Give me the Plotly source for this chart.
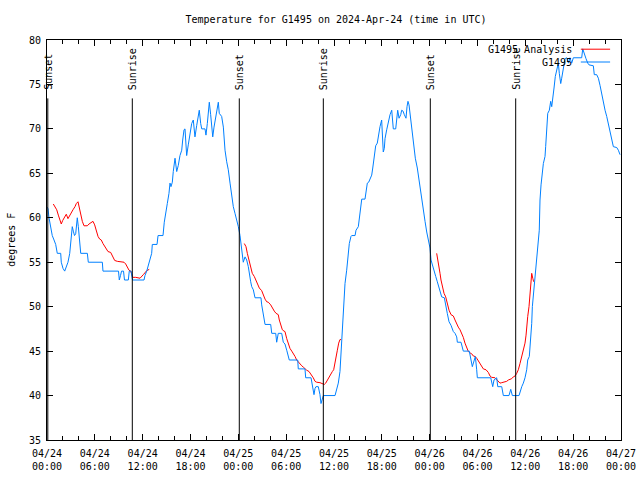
import plotly.graph_objects as go

# ---- data (hours since 2024-04-24 00:00 UTC) ----
obs_hours = [0.02, 0.13, 0.25, 0.46, 0.66, 0.88, 1.09, 1.29, 1.72, 1.79, 2.01, 2.22, 2.47, 2.63, 2.85, 2.97,
             3.17, 3.30, 3.45, 3.60, 3.68, 3.80, 3.93, 4.10, 4.23, 5.06, 5.18, 6.94, 7.02, 8.97, 9.07, 9.22,
             9.35, 9.60, 9.72, 10.20, 10.32, 10.54, 10.73, 12.17, 12.29, 12.51, 12.79, 13.13, 13.21, 13.80,
             13.93, 14.55, 14.71, 14.93, 15.09, 15.30, 15.43, 15.55, 15.72, 15.84, 15.97, 16.06, 16.27, 16.47,
             16.68, 16.90, 17.02, 17.19, 17.31, 17.52, 17.72, 17.94, 18.15, 18.35, 18.56, 18.78, 18.98, 19.10,
             19.28, 19.41, 19.82, 19.94, 20.11, 20.23, 20.36, 20.53, 20.66, 20.79, 20.95, 21.20, 21.36, 21.49,
             21.61, 21.91, 22.12, 22.33, 22.54, 22.74, 22.96, 23.17, 23.37, 23.58, 23.80, 24.00, 24.21, 24.42,
             24.62, 24.84, 25.05, 25.25, 25.38, 25.55, 25.68, 25.88, 26.09, 26.84, 26.93, 27.13, 27.35, 28.06,
             28.19, 28.69, 28.81, 29.01, 29.44, 29.64, 29.85, 30.07, 30.39, 31.45, 31.52, 32.36, 32.45, 33.12,
             33.28, 33.49, 33.62, 33.74, 34.03, 34.24, 34.37, 34.53, 34.66, 36.13, 36.34, 36.54, 36.75, 36.88,
             36.97, 37.17, 37.38, 37.59, 37.79, 37.92, 38.13, 38.22, 38.64, 38.76, 39.05, 39.17, 39.35, 39.48,
             39.89, 40.01, 40.18, 40.35, 40.52, 40.73, 40.86, 41.06, 41.23, 41.43, 41.56, 41.77, 41.98, 42.06,
             42.18, 42.31, 42.40, 42.61, 42.81, 43.03, 43.24, 43.37, 43.44, 43.74, 43.87, 43.99, 44.16, 44.37,
             44.49, 44.66, 44.82, 45.03, 45.16, 45.28, 45.41, 45.53, 45.66, 45.87, 46.04, 46.20, 46.45, 46.63,
             46.79, 47.00, 47.20, 47.42, 47.63, 47.83, 48.04, 48.17, 48.38, 48.58, 48.76, 48.96, 49.17, 49.39,
             49.51, 49.84, 50.01, 50.21, 50.43, 50.68, 50.97, 51.18, 51.39, 51.47, 51.93, 52.10, 52.22, 52.97,
             53.10, 53.19, 53.35, 53.60, 53.73, 53.90, 53.98, 55.66, 55.91, 56.07, 56.41, 56.54, 57.04, 57.24,
             57.95, 58.17, 58.29, 58.37, 59.21, 59.33, 59.55, 59.75, 59.96, 60.17, 60.30, 60.50, 60.63, 60.80,
             60.88, 61.00, 61.13, 61.21, 61.75, 61.84, 61.97, 62.26, 62.47, 62.55, 62.68, 62.81, 63.01, 63.18,
             63.31, 63.43, 63.60, 63.76, 63.94, 64.14, 64.26, 64.44, 64.56, 64.69, 64.85, 64.98, 65.19, 65.42,
             65.60, 65.82, 66.02, 67.07, 67.20, 67.36, 67.61, 67.83, 67.99, 68.53, 68.65, 68.95, 69.16, 69.37,
             69.58, 69.78, 70.00, 70.21, 70.41, 70.63, 70.84, 71.04, 71.47, 71.67, 71.88]
obs_temps = [61.2, 61, 60, 59, 58, 57.5, 57, 56, 56, 55, 54.3, 54, 54.5, 55, 56, 57,
             59, 58.5, 58, 58.2, 59.2, 60, 59, 57.5, 56, 56, 55, 55, 54, 54, 53, 53.5,
             54, 54, 53, 53, 54, 54, 53, 53, 53.5, 54, 55, 56, 57, 57,
             58, 58, 59.5, 60.5, 61.6, 62.75, 63.9, 63.5, 64, 65.2, 66.3, 66.7, 65.2, 65.9,
             67, 67.6, 68.75, 69.9, 70, 67, 68.2, 69.5, 70.6, 71, 69.1, 70.4, 71.4, 72.1,
             70.6, 70, 70, 69.3, 70.6, 72.1, 73, 71.6, 70.4, 69.1, 70.2, 71.75, 72.7, 73,
             71.75, 71.4, 70.2, 67.6, 66.3, 65.4, 63.9, 62.4, 61.25, 60.5, 59.75, 59, 58, 56.6,
             55, 55.6, 55.25, 54.5, 53.6, 52.8, 52.25, 51.9, 51, 51, 50.2, 49.25, 48, 48,
             47, 47, 46, 47, 47, 46, 45.8, 45.1, 44, 44, 43, 43, 42, 42,
             41.2, 40.1, 40.8, 41, 41, 40.1, 39.1, 39.7, 40, 40, 40.6, 41.4, 42.7, 44.6,
             47.2, 50, 52.6, 54.1, 55.6, 57.1, 57.9, 58, 58, 58.6, 59, 59.75, 61.25, 62.1,
             62.1, 62.75, 63.9, 64, 64.4, 64.8, 65.6, 67.4, 68.1, 68.4, 69.2, 70.25, 71, 68.75,
             67.4, 67.8, 68.9, 69.9, 70.8, 71.6, 72.1, 70.6, 70, 70, 71, 72.1, 71.2, 71.6,
             72.1, 72, 71.6, 71.2, 72.5, 73.1, 72.7, 71.75, 70.6, 68.75, 67.6, 66.7, 65.6, 64.4,
             63.5, 62.2, 60.9, 59.6, 58.4, 57.5, 56.6, 55.25, 54.5, 53.9, 53.4, 52.8, 52.1, 51.3,
             51.1, 51, 50, 49.25, 48.3, 47.9, 47.2, 47, 46.6, 46, 46, 45.5, 45, 45,
             44.4, 43.8, 43.25, 44, 44.4, 42.9, 42, 42, 41, 41.75, 42, 41, 41, 40,
             40, 40.7, 40.3, 40, 40, 40.4, 41, 41.4, 42, 42.9, 44, 44.4, 45.9, 48.1,
             50, 51.3, 52.6, 53.5, 58.6, 62, 63.7, 66.1, 66.9, 68, 70.25, 71.75, 72.1, 73.1,
             72.5, 73.25, 74.6, 75.9, 76.8, 77.4, 76.25, 75.1, 75.7, 76.4, 77.4, 77.9, 78, 77.4,
             78, 77.4, 78, 78, 79, 78.5, 77.9, 77.4, 77.2, 77.1, 76.1, 76.1, 75.7, 74.9,
             73.8, 72.9, 72.1, 71.4, 70.6, 69.5, 68.75, 68, 67.9, 67.6, 67.1]

ana_hours = [0.79, 1.00, 1.22, 1.42, 1.63, 1.79, 1.97, 2.22, 2.42, 2.63, 2.97, 3.26, 3.51, 3.68, 3.89, 4.01,
             4.23, 4.43, 4.64, 5.06, 5.27, 5.56, 5.77, 5.98, 6.18, 6.40, 6.61, 6.81, 7.02, 7.36, 7.65, 7.99,
             8.28, 8.49, 8.82, 9.66, 9.87, 10.07, 10.29, 10.50, 10.60, 10.75, 11.13, 11.67, 12.08, 12.29,
             12.51, 12.83, None,
             24.75, 24.96, 25.13, 25.34, 25.55, 25.75, 26.00, 26.22, 26.43, 26.63, 26.93, 27.13, 27.35, 27.56,
             27.76, 28.06, 28.26, 28.51, 28.73, 29.01, 29.14, 29.32, 29.52, 29.73, 29.85, 30.07, 30.27, 30.48,
             30.70, 30.90, 31.11, 31.32, 31.52, 31.74, 31.95, 32.15, 32.36, 32.58, 32.87, 33.12, 33.40, 33.62,
             33.83, 34.24, 34.53, 34.78, 34.96, 35.16, 35.37, 35.59, 35.79, 35.96, 36.13, 36.25, 36.42, 36.59,
             36.75, 36.88, None,
             48.88, 49.01, 49.17, 49.30, 49.42, 49.59, 49.80, 50.01, 50.21, 50.43, 50.68, 50.97, 51.18, 51.39,
             51.59, 51.81, 52.02, 52.22, 52.43, 52.65, 52.85, 53.06, 53.27, 53.48, 53.69, 53.90, 54.10, 54.32,
             54.53, 54.73, 55.07, 55.36, 55.57, 55.78, 56.20, 56.41, 56.61, 56.82, 57.04, 57.45, 57.66, 57.87,
             58.08, 58.29, 58.49, 58.71, 58.92, 59.12, 59.33, 59.55, 59.67, 59.84, 59.96, 60.09, 60.17, 60.30,
             60.46, 60.59, 60.71, 60.80, 60.93, 61.05]
ana_temps = [61.55, 61.25, 60.9, 60.3, 59.75, 59.3, 59.7, 60.1, 60.4, 59.9, 60.5, 60.9, 61.25, 61.6, 61.8, 61.25,
             60.3, 59.6, 59.1, 59.1, 59.3, 59.5, 59.6, 59.2, 58.4, 57.9, 57.6, 57.5, 57.1, 56.6, 56.2, 56.1,
             55.6, 55.2, 55.1, 55, 54.8, 54.5, 54.1, 54.0, 53.6, 53.3, 53.3, 53.2, 53.6, 53.8,
             54.05, 54.2, None,
             57.1, 56.75, 56, 55.1, 54.3, 53.75, 53.4, 53, 52.5, 52.1, 51.8, 51.3, 50.85, 50.55,
             50.5, 50.2, 49.8, 49.5, 49.25, 49.1, 48.5, 47.9, 47.4, 47.25, 47.2, 46.4, 45.9, 45.3,
             45, 44.75, 44.4, 44, 43.75, 43.5, 43.35, 43.2, 43, 42.85, 42.7, 42.4, 42, 41.6,
             41.5, 41.45, 41.3, 41.25, 41.4, 41.75, 42.1, 42.4, 42.7, 42.9, 43.6, 44.4, 45.1, 45.9,
             46.3, 46.3, None,
             56, 55.4, 54.7, 53.75, 53, 52.25, 51.5, 51.1, 50.4, 49.6, 49.1, 48.95, 48.5, 48.05,
             47.7, 47.4, 47, 46.55, 45.9, 45.3, 44.95, 44.8, 44.7, 44.45, 44.4, 44.2, 43.9, 43.6,
             43.25, 43, 42.9, 42.6, 42.2, 42.05, 42, 41.8, 41.6, 41.4, 41.45, 41.5, 41.6, 41.75,
             41.8, 41.9, 42.1, 42.2, 42.5, 42.9, 43.6, 44.4, 44.75, 45.7, 45.9, 46.8, 47.9, 48.9,
             50, 51.3, 52.6, 53.75, 53.2, 52.8]

sun_hours = [0.1, 10.70, 24.12, 34.66, 48.08, 58.79]
sun_labels = ["Sunset", "Sunrise", "Sunset", "Sunrise", "Sunset", "Sunrise"]

tick_hours = [0, 6, 12, 18, 24, 30, 36, 42, 48, 54, 60, 66, 72]
tick_labels = ["04/24<br>00:00", "04/24<br>06:00", "04/24<br>12:00", "04/24<br>18:00",
               "04/25<br>00:00", "04/25<br>06:00", "04/25<br>12:00", "04/25<br>18:00",
               "04/26<br>00:00", "04/26<br>06:00", "04/26<br>12:00", "04/26<br>18:00",
               "04/27<br>00:00"]
y_ticks = [35, 40, 45, 50, 55, 60, 65, 70, 75, 80]

series_names = ["G1495 Analysis", "G1495"]
series_colors = ["#ff0000", "#0080ff"]

FONT = "DejaVu Sans Mono"

fig = go.Figure()
fig.add_trace(go.Scatter(x=ana_hours, y=ana_temps, mode="lines", name=series_names[0],
                         line=dict(color=series_colors[0], width=1), connectgaps=False))
fig.add_trace(go.Scatter(x=obs_hours, y=obs_temps, mode="lines", name=series_names[1],
                         line=dict(color=series_colors[1], width=1)))

shapes = []
annotations = []
for h, lab in zip(sun_hours, sun_labels):
    shapes.append(dict(type="line", xref="x", yref="paper", x0=h, x1=h, y0=0, y1=0.854,
                       line=dict(color="black", width=1)))
    annotations.append(dict(xref="x", yref="paper", x=h, y=0.87, text=lab, showarrow=False,
                            textangle=-90, xanchor="center", yanchor="bottom",
                            font=dict(family=FONT, size=10, color="black")))

# manual legend (text right-aligned, sample line to the right)
leg_y = [0.977, 0.945]
for name, col, yy in zip(series_names, series_colors, leg_y):
    annotations.append(dict(xref="paper", yref="paper", x=0.918, y=yy, text=name, showarrow=False,
                            xanchor="right", yanchor="middle",
                            font=dict(family=FONT, size=10, color="black")))
    shapes.append(dict(type="line", xref="paper", yref="paper", x0=0.930, x1=0.981, y0=yy, y1=yy,
                       line=dict(color=col, width=1)))

annotations.append(dict(xref="paper", yref="paper", x=-0.063, y=0.5, text="degrees F", showarrow=False,
                        textangle=-90, xanchor="center", yanchor="middle",
                        font=dict(family=FONT, size=10, color="black")))

fig.update_layout(
    width=640, height=480,
    margin=dict(l=47, r=19, t=40, b=40, pad=0, autoexpand=False),
    paper_bgcolor="white", plot_bgcolor="white",
    showlegend=False,
    title=dict(text="Temperature for G1495 on 2024-Apr-24 (time in UTC)", x=0.5035, xanchor="center",
               xref="paper", y=1 - 19 / 480, yanchor="middle",
               font=dict(family=FONT, size=10, color="black")),
    font=dict(family=FONT, size=10, color="black"),
    shapes=shapes, annotations=annotations,
)
fig.update_xaxes(range=[0, 72], tickvals=tick_hours, ticktext=tick_labels, ticks="inside", ticklen=6,
                 tickcolor="black", showline=True, linecolor="black", linewidth=1, mirror="ticks",
                 showgrid=False, zeroline=False, ticklabelstandoff=4, automargin=False,
                 minor=dict(dtick=2, tick0=0, ticks="inside", ticklen=4, tickcolor="black", showgrid=False))
fig.update_yaxes(range=[35, 80], tickvals=y_ticks, ticks="inside", ticklen=6, tickcolor="black",
                 showline=True, linecolor="black", linewidth=1, mirror="ticks", showgrid=False,
                 zeroline=False, ticklabelstandoff=3, automargin=False)

# remove the default page margin so the 640x480 figure fills the window exactly
fig.write_html("out.html", config={"displayModeBar": False},
               post_script="document.body.style.margin='0px';")
